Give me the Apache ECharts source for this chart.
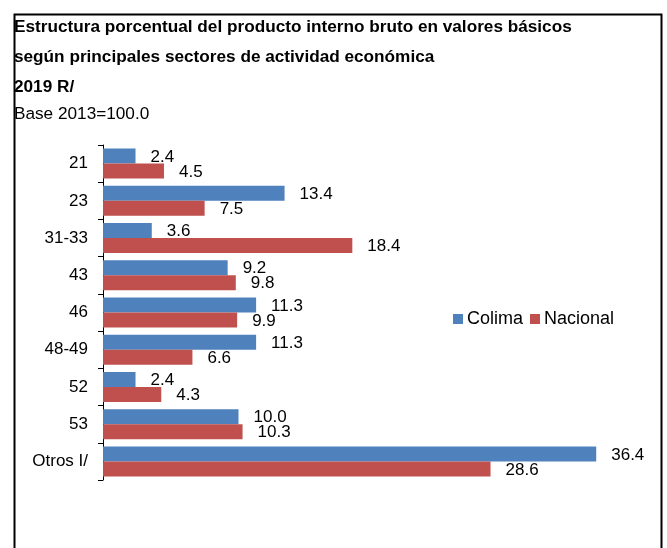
<!DOCTYPE html>
<html>
<head>
<meta charset="utf-8">
<script src="https://cdn.jsdelivr.net/npm/echarts@6/dist/echarts.min.js"></script>
<style>
html,body{margin:0;padding:0;background:#fff;}
#c{width:667px;height:548px;}
</style>
</head>
<body>
<div id="c"></div>
<script>
var titleLines = [
  "Estructura porcentual del producto interno bruto en valores básicos",
  "según principales sectores de actividad económica",
  "2019 R/"
];
var subtitle = "Base 2013=100.0";
var categories = ["21", "23", "31-33", "43", "46", "48-49", "52", "53", "Otros I/"];
var seriesNames = ["Colima", "Nacional"];
var colima = [2.4, 13.4, 3.6, 9.2, 11.3, 11.3, 2.4, 10.0, 36.4];
var nacional = [4.5, 7.5, 18.4, 9.8, 9.9, 6.6, 4.3, 10.3, 28.6];

var chart = echarts.init(document.getElementById('c'), null, {renderer: 'canvas'});
var FONT = '"Liberation Sans", Arial, sans-serif';
var titleTops = [19, 49, 79];
var titles = titleLines.map(function (t, i) {
  return {
    text: t, left: 14, top: titleTops[i], padding: 0,
    textStyle: {fontFamily: FONT, fontSize: 17.2, fontWeight: 'bold', color: '#000'}
  };
});
titles.push({
  text: subtitle, left: 14, top: 106, padding: 0,
  textStyle: {fontFamily: FONT, fontSize: 17.2, fontWeight: 'normal', color: '#000'}
});

function lbl() {
  return {
    show: true, position: 'right', distance: 15, offset: [0, 1],
    fontFamily: FONT, fontSize: 17, color: '#000',
    formatter: function (p) { return Number(p.value).toFixed(1); }
  };
}

chart.setOption({
  animation: false,
  backgroundColor: '#fff',
  title: titles,
  graphic: [{
    type: 'rect', left: 12, top: 12, z: 100,
    shape: {x: 0, y: 0, width: 647, height: 560},
    style: {fill: 'none', stroke: '#000', lineWidth: 2}
  }],
  legend: {
    left: 453, top: 310, itemWidth: 10, itemHeight: 10, itemGap: 7,
    icon: 'rect', padding: 0,
    textStyle: {fontFamily: FONT, fontSize: 18, color: '#000', padding: [0, 0, 0, -1]},
    data: seriesNames
  },
  grid: {left: 103, right: 22, top: 145, bottom: 68, containLabel: false},
  xAxis: {type: 'value', min: 0, max: 40, show: false, splitLine: {show: false}},
  yAxis: {
    type: 'category', data: categories, inverse: true,
    axisLine: {show: true, lineStyle: {color: '#000', width: 1}},
    axisTick: {show: true, length: 5, lineStyle: {color: '#000'}},
    axisLabel: {fontFamily: FONT, fontSize: 17, color: '#000', margin: 15}
  },
  series: [
    {name: seriesNames[0], type: 'bar', data: colima, barWidth: 15, barGap: '0%',
     itemStyle: {color: '#4F81BD'}, label: lbl()},
    {name: seriesNames[1], type: 'bar', data: nacional, barWidth: 15, barGap: '0%',
     itemStyle: {color: '#C0504D'}, label: lbl()}
  ]
});
</script>
</body>
</html>
